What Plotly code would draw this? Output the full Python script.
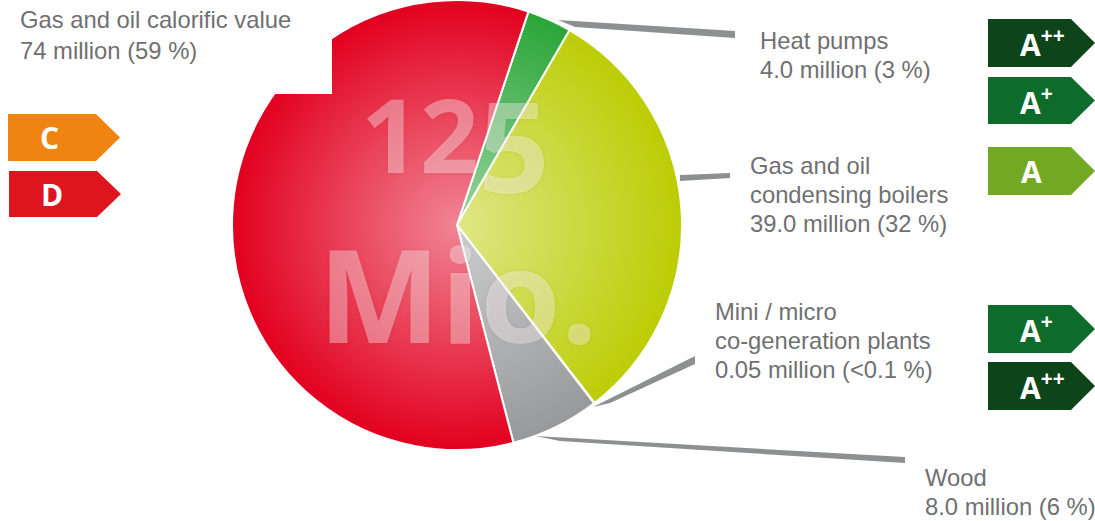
import base64
import plotly.graph_objects as go

W, H = 1095, 521

# ---- data ----
categories = ["Heat pumps", "Gas and oil condensing boilers", "Mini / micro co-generation plants", "Wood", "Gas and oil calorific value"]
values_million = [4.0, 39.0, 0.05, 8.0, 74.0]
slice_colors = ["#2aa638", "#bccd05", "#bccd05", "#98999b", "#e2001f"]

label_lines = [
    "Gas and oil calorific value", "74 million (59 %)",
    "Heat pumps", "4.0 million (3 %)",
    "Gas and oil", "condensing boilers", "39.0 million (32 %)",
    "Mini / micro", "co-generation plants", "0.05 million (<0.1 %)",
    "Wood", "8.0 million (6 %)",
]
label_x = [19, 19, 759, 759, 749, 749, 749, 714, 714, 714, 924, 924]
label_y = [20, 50, 41, 70, 166, 195, 224, 311, 340, 369, 477, 506]

badge_text = ["A<sup>++</sup>", "A<sup>+</sup>", "A", "A<sup>+</sup>", "A<sup>++</sup>", "C", "D"]
badge_left = [988, 988, 988, 988, 988, 8, 9]
badge_top = [19, 77, 147, 305, 362, 114, 171]
badge_bottom = [67, 124, 195, 353, 410, 161, 217]
badge_color = ["#0e4419", "#0d6c2c", "#72a824", "#0d6c2c", "#0e4419", "#ef8411", "#de141e"]
badge_text_x = [1019, 1019, 1031, 1019, 1019, 49, 52]

leaders = [
    [(558, 20), (735, 31), (735, 38), (575, 27)],
    [(680, 175), (730, 173), (730, 178), (680, 181)],
    [(593, 407), (695, 356), (695, 364), (610, 403)],
    [(535, 436), (905, 457), (905, 463), (560, 441)],
]

cx, cy, r = 457, 225, 225


def px(x):
    return x / W


def py(y):
    return 1 - y / H


fig = go.Figure(go.Pie(
    labels=categories,
    values=values_million,
    sort=False,
    direction="clockwise",
    rotation=18.5,
    textinfo="none",
    showlegend=False,
    marker=dict(colors=slice_colors, line=dict(color="white", width=2)),
    domain=dict(x=[px(cx - r), px(cx + r)], y=[py(cy + r), py(cy - r)]),
))

svg = (
    '<svg xmlns="http://www.w3.org/2000/svg" width="450" height="450">'
    '<defs><radialGradient id="g" cx="50%" cy="50%" r="50%">'
    '<stop offset="0%" stop-color="#fff" stop-opacity="0.52"/>'
    '<stop offset="100%" stop-color="#fff" stop-opacity="0"/>'
    '</radialGradient></defs>'
    '<circle cx="225" cy="225" r="225" fill="url(#g)"/></svg>'
)
glow = "data:image/svg+xml;base64," + base64.b64encode(svg.encode()).decode()

shapes = []
# white notch cut out of the pie
shapes.append(dict(type="rect", xref="paper", yref="paper", x0=px(240), x1=px(332), y0=py(94), y1=1,
                   fillcolor="white", line_width=0, layer="above"))
for pts in leaders:
    path = "M" + " L".join(f"{px(x):.5f},{py(y):.5f}" for x, y in pts) + " Z"
    shapes.append(dict(type="path", xref="paper", yref="paper", path=path,
                       fillcolor="#8e8f91", line_width=0, layer="below"))
for left, top, bottom, col in zip(badge_left, badge_top, badge_bottom, badge_color):
    right = left + 107 if left > 500 else left + 112
    shoulder = right - 24
    mid = (top + bottom) / 2
    pts = [(left, top), (shoulder, top), (right, mid), (shoulder, bottom), (left, bottom)]
    path = "M" + " L".join(f"{px(x):.5f},{py(y):.5f}" for x, y in pts) + " Z"
    shapes.append(dict(type="path", xref="paper", yref="paper", path=path,
                       fillcolor=col, line_width=0, layer="above"))

ann = []
for t, x, y in zip(label_lines, label_x, label_y):
    ann.append(dict(text=t, x=px(x), y=py(y), xref="paper", yref="paper", xanchor="left", yanchor="middle",
                    align="left", showarrow=False, borderpad=0,
                    font=dict(family="Liberation Sans", size=23.8, color="#6f7072")))
for t, x, top, bottom in zip(badge_text, badge_text_x, badge_top, badge_bottom):
    simple = "sup" not in t
    ann.append(dict(text=t, x=px(x), y=py((top + bottom) / 2), xref="paper", yref="paper",
                    xanchor="center" if simple else "left", yanchor="middle", showarrow=False, borderpad=0,
                    font=dict(family="Open Sans", size=30, color="white", weight=700)))

big = dict(family="Open Sans", color="rgba(255,255,255,0.36)", weight=700, shadow="0 0 5px rgba(120,0,20,0.18)")
ann.append(dict(text="12", x=px(360), y=py(133), xref="paper", yref="paper", xanchor="left", yanchor="middle",
                showarrow=False, borderpad=0, font=dict(size=103, **big)))
ann.append(dict(text="5", x=px(477), y=py(144), xref="paper", yref="paper", xanchor="left", yanchor="middle",
                showarrow=False, borderpad=0, font=dict(size=125, **big)))
ann.append(dict(text="Mio.", x=px(317), y=py(292), xref="paper", yref="paper", xanchor="left", yanchor="middle",
                showarrow=False, borderpad=0, font=dict(size=130, **big)))

fig.update_layout(
    width=W, height=H,
    margin=dict(l=0, r=0, t=0, b=0),
    paper_bgcolor="white",
    shapes=shapes,
    annotations=ann,
    images=[dict(source=glow, xref="paper", yref="paper", x=px(cx - r), y=py(cy - r),
                 sizex=2 * r / W, sizey=2 * r / H, xanchor="left", yanchor="top",
                 sizing="stretch", layer="above")],
)
fig.write_html("out.html", config={"displayModeBar": False},
               post_script="document.body.style.margin='0';document.body.style.overflow='hidden';")
